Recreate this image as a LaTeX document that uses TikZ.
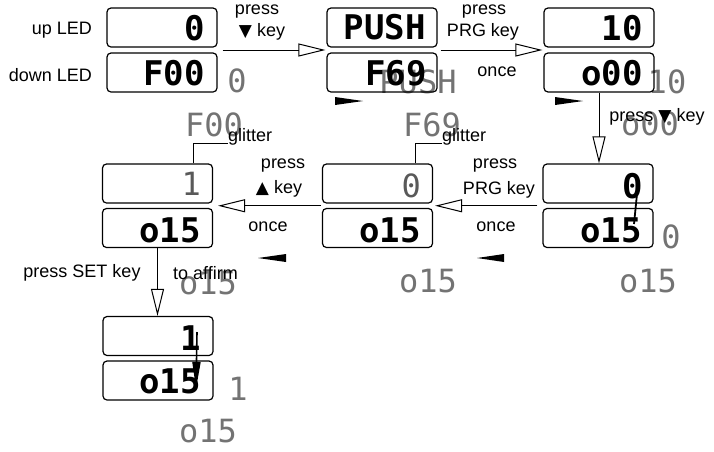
\documentclass[tikz,border=0pt]{standalone}
\usepackage{fontspec}
\setmainfont{Liberation Sans}
\newfontfamily\ledfont{DejaVu Sans Mono}
\newfontfamily\symfont{DejaVu Sans}
\usetikzlibrary{arrows.meta,calc}
\begin{document}
\begin{tikzpicture}[x=1pt,y=-1pt,
  led/.style={draw, line width=1.2pt, rounded corners=4pt, minimum width=110pt, minimum height=39pt, inner sep=0pt},
  dig/.style={font=\ledfont\bfseries\fontsize{34}{34}\selectfont, inner sep=0pt, anchor=base east},
  dimdig/.style={font=\ledfont\fontsize{32}{32}\selectfont, text=black!65, inner sep=0pt, anchor=base east},
  ghost/.style={font=\ledfont\fontsize{32}{32}\selectfont, text=black!55, inner sep=0pt},
  lbl/.style={font=\fontsize{18}{20}\selectfont, inner sep=0pt},
  sym/.style={},
  flow/.style={line width=1pt, -{Triangle[open,length=27pt,width=13pt,line width=1pt]}},
  wedgefill/.style={fill=black, draw=none},
  chgmark/.style={line width=1.8pt}
]
\useasboundingbox (0,0) rectangle (714,451);
\newcommand{\dn}{{\symfont\fontsize{17}{17}\selectfont ▼}}
\newcommand{\upk}{{\symfont\fontsize{17}{17}\selectfont ▲}}

% ---------- ghost texts (drawn first, under everything) ----------
\node[ghost] (g1) at (237,81) {0};
\node[ghost] (g2) at (214,125) {F00};
\node[ghost] (g3) at (418,82) {PUSH};
\node[ghost] (g4) at (432,125) {F69};
\node[ghost] (g5) at (667,82) {10};
\node[ghost] (g6) at (650,124) {o00};
\node[ghost] (g7) at (671,237) {0};
\node[ghost] (g8) at (648,281) {o15};
\node[ghost] (g9) at (428,281) {o15};
\node[ghost] (g10) at (208,283) {o15};
\node[ghost] (g11) at (238,389) {1};
\node[ghost] (g12) at (208,431) {o15};

% ---------- LED boxes ----------
\node[led] (r1c1u) at (162,27.5) {};
\node[led] (r1c1d) at (162,72.5) {};
\node[led] (r1c2u) at (382,27.5) {};
\node[led] (r1c2d) at (382,72.5) {};
\node[led] (r1c3u) at (599,27.5) {};
\node[led] (r1c3d) at (599,72.5) {};
\node[led] (r2c1u) at (157.5,183.5) {};
\node[led] (r2c1d) at (157.5,228) {};
\node[led] (r2c2u) at (377.5,183.5) {};
\node[led] (r2c2d) at (377.5,228) {};
\node[led] (r2c3u) at (598,183.5) {};
\node[led] (r2c3d) at (598,228) {};
\node[led] (r3u) at (158,336) {};
\node[led] (r3d) at (158,380.5) {};

% ---------- LED contents ----------
\node[dig] (t11u) at (205,40) {0};
\node[dig] (t11d) at (205,85) {F00};
\node[dig] (t12u) at (426,39) {PUSH};
\node[dig] (t12d) at (427,85) {F69};
\node[dig] (t13u) at (643,40) {10};
\node[dig] (t13d) at (643,85) {o00};
\node[dimdig] (t21u) at (201,195) {1};
\node[dig] (t21d) at (201,242) {o15};
\node[dimdig] (t22u) at (421,197) {0};
\node[dig] (t22d) at (421,242) {o15};
\node[dig] (t23u) at (643,198) {0};
\node[dig] (t23d) at (642,242) {o15};
\node[dig] (t3u) at (201,350) {1};
\node[dig] (t3d) at (201,393) {o15};

% change marks inside displays
\coordinate (m1a) at (637,194);
\coordinate (m1b) at (634,224);
\draw[chgmark] (m1a) -- (m1b);
\coordinate (m2a) at (197,332);
\coordinate (m2b) at (196,389);
\draw[line width=1.6pt, -{Triangle[length=27pt,width=8pt]}] (m2a) -- (m2b);

% ---------- side labels ----------
\node[lbl, anchor=east] (lup) at (92,30) {up LED};
\node[lbl, anchor=east] (ldown) at (92,75) {down LED};

% ---------- arrows ----------
\draw[flow] ($(r1c1u.south east)!.5!(r1c1d.north east)+(5,0)$) -- ($(r1c2u.south west)!.5!(r1c2d.north west)+(-1,0)$);
\draw[flow] ($(r1c2u.south east)!.5!(r1c2d.north east)+(3,0)$) -- ($(r1c3u.south west)!.5!(r1c3d.north west)+(-1,0)$);
\draw[flow] (r1c3d.south) -- (r1c3d.south |- r2c3u.north);
\draw[flow] ($(r2c3u.south west)!.5!(r2c3d.north west)+(-5,0)$) -- ($(r2c2u.south east)!.5!(r2c2d.north east)+(2,0)$);
\draw[flow] ($(r2c2u.south west)!.5!(r2c2d.north west)+(-1,0)$) -- ($(r2c1u.south east)!.5!(r2c1d.north east)+(5,0)$);
\draw[flow] (r2c1d.south) -- (r2c1d.south |- r3u.north);

% ---------- arrow labels ----------
\node[lbl] (p1) at (257,12) {press};
\node[lbl] (k1) at (262,32) {\dn\ key};
\node[lbl] (p2) at (484,12) {press};
\node[lbl] (k2) at (483,32) {PRG key};
\node[lbl] (o2) at (497,72) {once};
\node[lbl] (p3) at (657,117) {press \dn\ key};
\node[lbl] (p4) at (283,166) {press};
\node[lbl] (k4) at (279,189) {\upk\ key};
\node[lbl] (o4) at (268,227) {once};
\node[lbl] (p5) at (495,166) {press};
\node[lbl] (k5) at (499,190) {PRG key};
\node[lbl] (o5) at (496,227) {once};
\node[lbl] (s6) at (82,273) {press SET key};
\node[lbl, anchor=west] (s7) at (173,273) {to affirm};

% ---------- glitter callouts ----------
\node[lbl, anchor=west] (gl1) at (228,137) {glitter};
\node[lbl, anchor=west] (gl2) at (442,137) {glitter};
\coordinate (gc1) at (193,143);
\coordinate (gc2) at (415,143);
\draw[line width=1pt] (gc1 |- r2c1u.north) -- (gc1) -- (gc1 -| gl1.west);
\draw[line width=1pt] (gc2 |- r2c2u.north) -- (gc2) -- (gc2 -| gl2.west);

% ---------- black wedges ----------
\fill[wedgefill] (335,97) -- (363,101) -- (335,105) -- cycle;
\fill[wedgefill] (555,97) -- (583,101) -- (555,105) -- cycle;
\fill[wedgefill] (286,254) -- (258,258) -- (286,262) -- cycle;
\fill[wedgefill] (504,254) -- (477,258) -- (504,262) -- cycle;
\end{tikzpicture}
\end{document}
